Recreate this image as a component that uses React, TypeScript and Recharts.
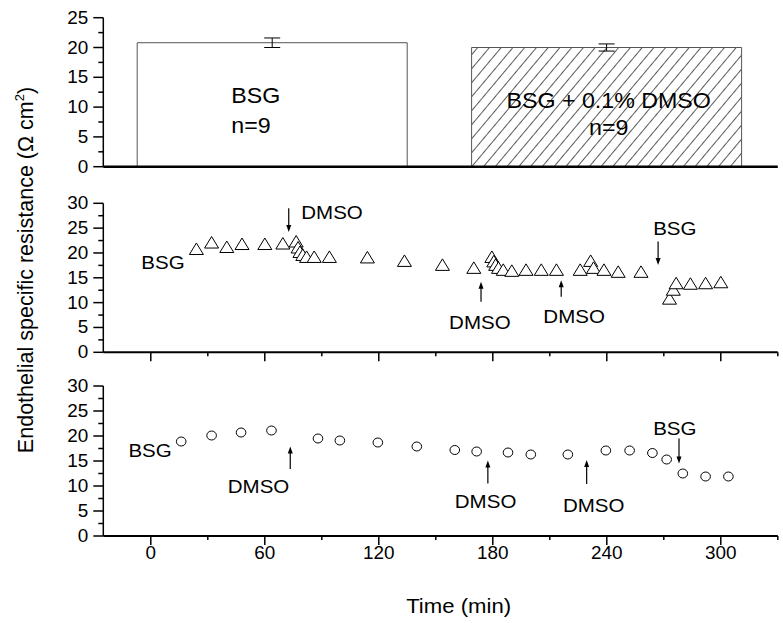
import { ComposedChart, Bar, ErrorBar, Scatter, XAxis, YAxis, ReferenceDot, ReferenceLine } from "recharts"

const FONT = '"Liberation Sans", Arial, Helvetica, sans-serif'
const STRETCH = 1.08 // source figure is slightly widened horizontally

// top panel: mean resistance, n=9 each
const barTimes = [64, 240]
const barValues = [20.8, 20.0]
const barErrors = [0.8, 0.6]
const barFills = ["#ffffff", "url(#hatch)"]

// middle panel (triangles)
const triTimes = [24, 32, 40, 48, 60, 69.5, 76.5, 77.5, 78.5, 80, 82, 86, 94, 114, 133.5, 153.5, 170, 179.5, 180.5, 181.5, 183, 185.5, 190, 197.5, 205.5, 213.5, 226, 231.5, 233, 238.5, 246, 258, 273, 275, 276.5, 284, 292, 300]
const triValues = [20.8, 22.1, 21.2, 21.8, 21.8, 21.9, 22.3, 21.1, 20.2, 19.6, 19.2, 19.2, 19.2, 19.1, 18.4, 17.6, 17.0, 19.2, 18.3, 17.6, 17.0, 16.6, 16.4, 16.6, 16.6, 16.6, 16.6, 18.4, 17.0, 16.6, 16.2, 16.2, 10.8, 12.6, 13.9, 13.8, 13.9, 14.1]

// bottom panel (circles)
const circTimes = [16, 32, 47.5, 63.5, 88, 99.5, 119.5, 140, 160, 171.5, 188, 200, 219.5, 239.5, 252, 264, 271.5, 280, 292, 304]
const circValues = [18.9, 20.1, 20.7, 21.1, 19.5, 19.1, 18.7, 17.9, 17.2, 16.9, 16.7, 16.3, 16.3, 17.1, 17.1, 16.6, 15.3, 12.5, 11.9, 11.9]

const xTicks = [0, 30, 60, 90, 120, 150, 180, 210, 240, 270, 300, 330]
const yTicksTop = [0, 2.5, 5, 7.5, 10, 12.5, 15, 17.5, 20, 22.5, 25]
const yTicks30 = [0, 2.5, 5, 7.5, 10, 12.5, 15, 17.5, 20, 22.5, 25, 27.5, 30]

// annotations: text labels and arrows (t = min, v = resistance)
const topLabels = [
  { t: 42.4, v: 12.0, text: "BSG", anchor: "start" },
  { t: 42.4, v: 7.0, text: "n=9", anchor: "start" },
  { t: 241, v: 11.2, text: "BSG + 0.1% DMSO", anchor: "middle" },
  { t: 241, v: 6.7, text: "n=9", anchor: "middle" },
]
const midLabels = [
  { t: 79.2, v: 28.2, text: "DMSO", anchor: "start" },
  { t: -5, v: 18.2, text: "BSG", anchor: "start" },
  { t: 173.2, v: 6.1, text: "DMSO", anchor: "middle" },
  { t: 222.8, v: 7.2, text: "DMSO", anchor: "middle" },
  { t: 275.8, v: 25.0, text: "BSG", anchor: "middle" },
]
const midArrows = [
  { t: 72.6, from: 29.0, to: 24.2 },
  { t: 173.8, from: 10.2, to: 14.2 },
  { t: 216, from: 11.2, to: 14.5 },
  { t: 267, from: 22.3, to: 17.6 },
]
const botLabels = [
  { t: -11.8, v: 17.2, text: "BSG", anchor: "start" },
  { t: 56.7, v: 9.9, text: "DMSO", anchor: "middle" },
  { t: 176.2, v: 6.9, text: "DMSO", anchor: "middle" },
  { t: 233.1, v: 6.2, text: "DMSO", anchor: "middle" },
  { t: 275.8, v: 21.5, text: "BSG", anchor: "middle" },
]
const botArrows = [
  { t: 73.4, from: 13.4, to: 17.9 },
  { t: 177.4, from: 10.5, to: 15.1 },
  { t: 229.4, from: 10.4, to: 15.2 },
  { t: 278, from: 19.5, to: 14.5 },
]

const barData = barTimes.map((t, i) => ({ t, v: barValues[i], err: barErrors[i], fill: barFills[i] }))
const triData = triTimes.map((t, i) => ({ t, v: triValues[i] }))
const circData = circTimes.map((t, i) => ({ t, v: circValues[i] }))

const SText = ({ x, y, anchor, size, children }: any) => (
  <text
    transform={`translate(${x},${y}) scale(${STRETCH},1)`}
    textAnchor={anchor}
    fontSize={size}
    fontFamily={FONT}
    fill="#000"
  >
    {children}
  </text>
)

const YTick = (props: any) => {
  const { x, y, payload } = props
  const major = payload.value % 5 === 0
  return (
    <g>
      <line x1={x - (major ? 10 : 5)} x2={x} y1={y} y2={y} stroke="#000" strokeWidth={1.5} />
      {major && (
        <SText x={x - 15} y={y + 6} anchor="end" size={17.5}>
          {payload.value}
        </SText>
      )}
    </g>
  )
}

const XTick = (props: any) => {
  const { x, y, payload, showLabel } = props
  const major = payload.value % 60 === 0
  return (
    <g>
      <line x1={x} x2={x} y1={y} y2={y + (major ? 9 : 4)} stroke="#000" strokeWidth={1.5} />
      {major && showLabel && (
        <SText x={x} y={y + 23} anchor="middle" size={17.5}>
          {payload.value}
        </SText>
      )}
    </g>
  )
}

const Triangle = (props: any) => {
  const { cx, cy } = props
  return (
    <polygon
      points={`${cx},${cy - 6} ${cx + 7},${cy + 5.5} ${cx - 7},${cy + 5.5}`}
      fill="#fff"
      stroke="#000"
      strokeWidth={1}
    />
  )
}

const Circle = (props: any) => {
  const { cx, cy } = props
  return <ellipse cx={cx} cy={cy} rx={4.8} ry={4.5} fill="#fff" stroke="#000" strokeWidth={1} />
}

const Arrow = (props: any) => {
  const { x1, y1, x2, y2 } = props
  const dir = y2 > y1 ? 1 : -1
  return (
    <g>
      <line x1={x1} y1={y1} x2={x2} y2={y2 - dir * 5} stroke="#000" strokeWidth={1.2} />
      <polygon points={`${x2},${y2} ${x2 - 2.5},${y2 - dir * 7} ${x2 + 2.5},${y2 - dir * 7}`} fill="#000" />
    </g>
  )
}

function labelDots(list: { t: number; v: number; text: string; anchor: string }[], size: number) {
  return list.map((l, i) => (
    <ReferenceDot
      key={"l" + i}
      x={l.t}
      y={l.v}
      ifOverflow="visible"
      shape={(p: any) => (
        <SText x={p.cx} y={p.cy + size * 0.36} anchor={l.anchor} size={size}>
          {l.text}
        </SText>
      )}
    />
  ))
}

function arrowLines(list: { t: number; from: number; to: number }[]) {
  return list.map((a, i) => (
    <ReferenceLine
      key={"a" + i}
      segment={[{ x: a.t, y: a.from }, { x: a.t, y: a.to }]}
      ifOverflow="visible"
      shape={(p: any) => <Arrow {...p} />}
    />
  ))
}

const X_DOMAIN: [number, number] = [-25, 330]
const W = 783

export default function App() {
  return (
    <div style={{ position: "absolute", left: 0, top: 0, width: W, height: 623, background: "#fff", fontFamily: FONT }}>
      <svg width={0} height={0} style={{ position: "absolute" }}>
        <defs>
          <pattern id="hatch" width={9} height={9} patternUnits="userSpaceOnUse" patternTransform="rotate(40)">
            <line x1={0} y1={0} x2={0} y2={9} stroke="#000" strokeWidth={1.3} />
          </pattern>
        </defs>
      </svg>

      <div style={{ position: "absolute", left: 0, top: 0 }}>
        <ComposedChart width={W} height={180} data={barData} margin={{ top: 17.7, right: 5.2, bottom: 3.3, left: 43.3 }}>
          <XAxis type="number" dataKey="t" domain={X_DOMAIN} height={10} tick={false} tickLine={false} axisLine={{ stroke: "#000", strokeWidth: 2.5 }} allowDataOverflow />
          <YAxis type="number" domain={[0, 25]} ticks={yTicksTop} interval={0} width={60} tickSize={0} tickMargin={0} tickLine={false} tick={<YTick />} axisLine={{ stroke: "#000", strokeWidth: 1.5 }} />
          <Bar dataKey="v" barSize={270} stroke="#555" strokeWidth={1} isAnimationActive={false}>
            <ErrorBar dataKey="err" width={8} stroke="#000" strokeWidth={1} direction="y" />
          </Bar>
          {labelDots(topLabels, 21.5)}
        </ComposedChart>
      </div>

      <div style={{ position: "absolute", left: 0, top: 180 }}>
        <ComposedChart width={W} height={190} margin={{ top: 23.3, right: 5.2, bottom: 5.7, left: 43.3 }}>
          <XAxis type="number" dataKey="t" domain={X_DOMAIN} ticks={xTicks} interval={0} height={12} tickSize={0} tickMargin={0} tickLine={false} tick={<XTick showLabel={false} />} axisLine={{ stroke: "#000", strokeWidth: 2 }} allowDataOverflow />
          <YAxis type="number" dataKey="v" domain={[0, 30]} ticks={yTicks30} interval={0} width={60} tickSize={0} tickMargin={0} tickLine={false} tick={<YTick />} axisLine={{ stroke: "#000", strokeWidth: 1.5 }} />
          <Scatter data={triData} dataKey="v" shape={<Triangle />} isAnimationActive={false} />
          {arrowLines(midArrows)}
          {labelDots(midLabels, 19)}
        </ComposedChart>
      </div>

      <div style={{ position: "absolute", left: 0, top: 370 }}>
        <ComposedChart width={W} height={253} margin={{ top: 16, right: 5.2, bottom: 57, left: 43.3 }}>
          <XAxis type="number" dataKey="t" domain={X_DOMAIN} ticks={xTicks} interval={0} height={30} tickSize={0} tickMargin={0} tickLine={false} tick={<XTick showLabel />} axisLine={{ stroke: "#000", strokeWidth: 2 }} allowDataOverflow />
          <YAxis type="number" dataKey="v" domain={[0, 30]} ticks={yTicks30} interval={0} width={60} tickSize={0} tickMargin={0} tickLine={false} tick={<YTick />} axisLine={{ stroke: "#000", strokeWidth: 1.5 }} />
          <Scatter data={circData} dataKey="v" shape={<Circle />} isAnimationActive={false} />
          {arrowLines(botArrows)}
          {labelDots(botLabels, 19)}
        </ComposedChart>
      </div>

      <svg width={W} height={623} style={{ position: "absolute", left: 0, top: 0, pointerEvents: "none" }}>
        <text transform="translate(33,270) rotate(-90)" textAnchor="middle" fontSize={21.5} fontFamily={FONT} fill="#000">
          Endothelial specific resistance (Ω cm<tspan dy={-9} fontSize={13}>2</tspan>
          <tspan dy={9}>)</tspan>
        </text>
        <SText x={458.6} y={613} anchor="middle" size={20.5}>
          Time (min)
        </SText>
      </svg>
    </div>
  )
}
